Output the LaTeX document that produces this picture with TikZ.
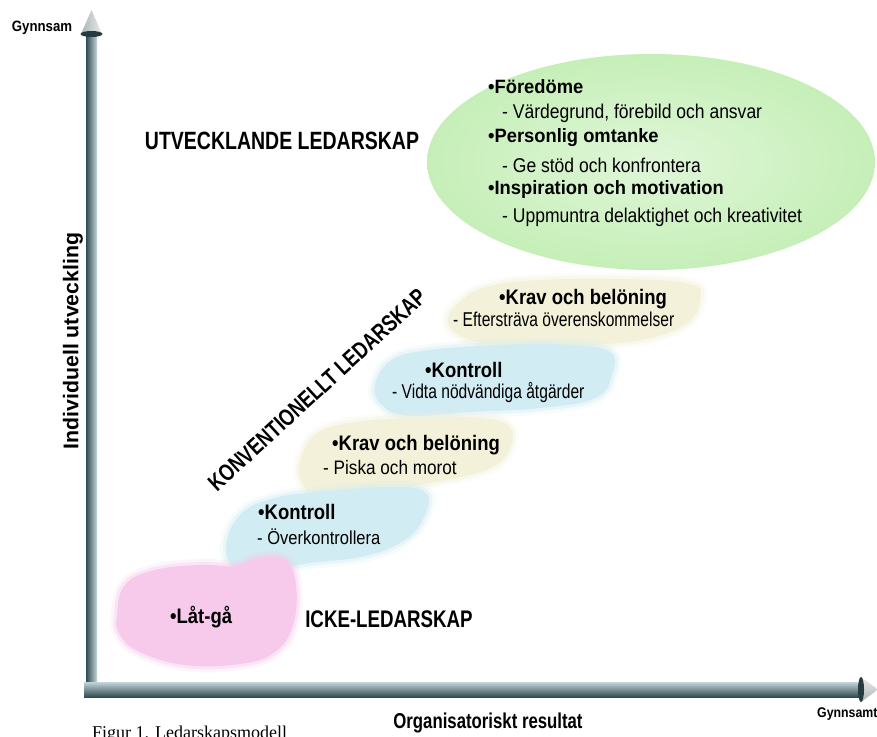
\documentclass[tikz,border=0pt]{standalone}
\usepackage{fontspec}
\setmainfont{Liberation Sans}
\newfontfamily\narrow{Liberation Sans}[FakeStretch=0.78]
\newfontfamily\medium{Liberation Sans}[FakeStretch=0.88]
\newfontfamily\wide{Liberation Sans}[FakeStretch=0.95]
\newfontfamily\capfont{Liberation Serif}
\definecolor{axdark}{HTML}{2F4A50}
\definecolor{axlight}{HTML}{C4D6DA}
\definecolor{greenfill}{HTML}{C6EFB8}
\definecolor{bluefill}{HTML}{D2ECF3}
\definecolor{beigefill}{HTML}{F3F1D9}
\definecolor{pinkfill}{HTML}{F7C9EA}
\newcommand\softblob[2]{%
  \draw[#1, line width=12pt, opacity=0.18, line join=round] plot[smooth cycle, tension=0.7] coordinates {#2};
  \draw[#1, line width=6pt, opacity=0.35, line join=round] plot[smooth cycle, tension=0.7] coordinates {#2};
  \fill[#1] plot[smooth cycle, tension=0.7] coordinates {#2};}
\begin{document}
\begin{tikzpicture}[x=1pt,y=-1pt,
  title/.style={font=\narrow\bfseries\fontsize{25}{28}\selectfont, inner sep=0pt},
  item/.style={font=\wide\bfseries\fontsize{19.3}{22}\selectfont, anchor=west, inner sep=0pt},
  sub/.style={font=\medium\fontsize{19.9}{22}\selectfont, anchor=west, inner sep=0pt},
  bitem/.style={font=\medium\bfseries\fontsize{21}{24}\selectfont, anchor=west, inner sep=0pt},
  bsub/.style={font=\narrow\fontsize{20}{23}\selectfont, anchor=west, inner sep=0pt},
  bsubm/.style={font=\medium\fontsize{19.5}{22}\selectfont, anchor=west, inner sep=0pt},
  axlabel/.style={font=\narrow\bfseries\fontsize{21.5}{24}\selectfont, inner sep=0pt},
  small/.style={font=\medium\bfseries\fontsize{15}{17}\selectfont, inner sep=0pt}]
\useasboundingbox (0,0) rectangle (877,736);
\fill[white] (0,0) rectangle (877,736);

% blobs
\softblob{beigefill}{(448,322) (462,300) (490,286) (540,280) (620,279) (690,284) (700,300) (688,322) (650,338) (590,345) (520,346) (470,340)}
\softblob{bluefill}{(375,385) (392,360) (430,350) (500,345) (570,345) (610,352) (612,375) (595,398) (540,408) (470,412) (410,416) (382,405)}
\softblob{beigefill}{(300,462) (315,435) (350,423) (410,418) (480,418) (510,428) (508,452) (485,470) (430,483) (370,493) (320,497) (302,482)}
\softblob{bluefill}{(226,548) (240,515) (275,498) (330,491) (390,487) (425,492) (425,515) (405,540) (365,556) (310,563) (268,570) (238,570)}
\softblob{pinkfill}{(117,615) (125,585) (155,570) (200,565) (235,566) (258,558) (285,560) (296,585) (293,625) (275,652) (240,664) (185,665) (140,652) (120,635)}
\shade[inner color=greenfill!55!white, outer color=greenfill] (651,162) ellipse [x radius=224, y radius=108];

% axes
\shade[left color=axdark, right color=axlight] (86,36) rectangle (97,697);
\shade[top color=axlight, bottom color=axdark] (84,682) rectangle (862,697);
\shade[left color=axlight!60!gray, right color=white!85!gray] (91.5,10) -- (102,34) -- (81,34) -- cycle;
\fill[axdark!80!black] (91.5,34) ellipse [x radius=11, y radius=3];
\shade[top color=white!85!gray, bottom color=axlight!60!gray] (878,689.5) -- (861,677) -- (861,702) -- cycle;
\fill[axdark!80!black] (861,689.5) ellipse [x radius=3, y radius=12.5];

% axis labels
\node[small] (gy) at (42,28) {Gynnsam};
\node[small, font=\medium\bfseries\fontsize{14}{16}\selectfont, anchor=west] (gx) at (817,714) {Gynnsamt};
\node[font=\bfseries\fontsize{21.3}{24}\selectfont, inner sep=0pt, rotate=90] (ylab) at (73,341) {Individuell utveckling};
\node[axlabel] (xlab) at (488,723) {Organisatoriskt resultat};
\node[font=\capfont\fontsize{18}{21}\selectfont, anchor=base west, inner sep=0pt] (cap) at (92,738) {Figur 1. Ledarskapsmodell};

% titles
\node[title] (utv) at (282,141) {UTVECKLANDE LEDARSKAP};
\node[title, font=\narrow\bfseries\fontsize{24}{27}\selectfont] (icke) at (389,619) {ICKE-LEDARSKAP};
\node[title, font=\narrow\bfseries\fontsize{23.5}{26}\selectfont, rotate=42.5] (konv) at (317,390) {KONVENTIONELLT LEDARSKAP};

% ellipse items
\node[item] (i1) at (488,87) {•Föredöme};
\node[sub] (s1) at (502,113) {- Värdegrund, förebild och ansvar};
\node[item] (i2) at (488,138) {•Personlig omtanke};
\node[sub] (s2) at (502,165) {- Ge stöd och konfrontera};
\node[item] (i3) at (488,190) {•Inspiration och motivation};
\node[sub] (s3) at (502,217) {- Uppmuntra delaktighet och kreativitet};

% band items
\node[bitem] (b1) at (499,299) {•Krav och belöning};
\node[bsub] (c1) at (453,319) {- Eftersträva överenskommelser};
\node[bitem] (b2) at (425,370) {•Kontroll};
\node[bsub] (c2) at (392,393) {- Vidta nödvändiga åtgärder};
\node[bitem] (b3) at (332,445) {•Krav och belöning};
\node[bsubm] (c3) at (323,468) {- Piska och morot};
\node[bitem] (b4) at (258,512) {•Kontroll};
\node[bsubm, font=\medium\fontsize{18.8}{22}\selectfont] (c4) at (257,537) {- Överkontrollera};
\node[bitem] (b5) at (170,617) {•Låt-gå};
\end{tikzpicture}
\end{document}
